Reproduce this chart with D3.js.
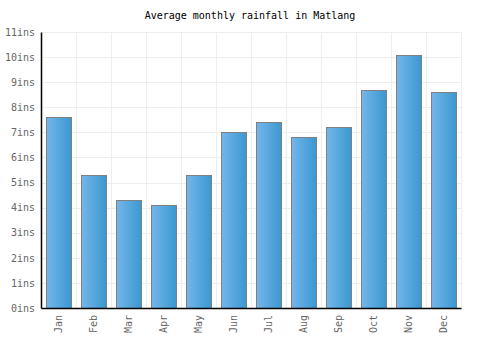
<!DOCTYPE html>
<html><head><meta charset="utf-8">
<script src="https://cdn.jsdelivr.net/npm/d3@7"></script>
<style>body{margin:0;background:#fff}</style>
</head><body><svg id="c" width="500" height="350"></svg>
<script>
const months = ["Jan","Feb","Mar","Apr","May","Jun","Jul","Aug","Sep","Oct","Nov","Dec"];
const rainfall = [7.6,5.3,4.3,4.1,5.3,7.0,7.4,6.8,7.2,8.7,10.1,8.6];
const yTicks = [0,1,2,3,4,5,6,7,8,9,10,11];
const title = "Average monthly rainfall in Matlang";

const svg = d3.select("#c");
const m = {l:41, r:39, t:32, b:42};
const W = 500, H = 350;
const x = d3.scaleBand().domain(months).range([m.l, W-m.r]).paddingInner(0.3).paddingOuter(0.15);
const xg = d3.scaleBand().domain(months).range([m.l, W-m.r]);
const y = d3.scaleLinear().domain([0,11]).range([H-m.b, m.t]);
const font = "'DejaVu Sans Mono', monospace";

const defs = svg.append("defs");
const g = defs.append("linearGradient").attr("id","bg").attr("x1","0").attr("x2","1").attr("y1","0").attr("y2","0");
g.append("stop").attr("offset","0").attr("stop-color","#74b6ea");
g.append("stop").attr("offset","1").attr("stop-color","#3a98d0");

// grid
svg.append("g").selectAll("line").data(yTicks).join("line")
  .attr("x1", m.l).attr("x2", W-m.r)
  .attr("y1", d=>Math.round(y(d))+0.5).attr("y2", d=>Math.round(y(d))+0.5)
  .attr("stroke","#eeeeee");
svg.append("g").selectAll("line").data(months).join("line")
  .attr("x1", d=>Math.round(xg(d)+xg.bandwidth())+0.5).attr("x2", d=>Math.round(xg(d)+xg.bandwidth())+0.5)
  .attr("y1", m.t).attr("y2", H-m.b)
  .attr("stroke","#eeeeee");

// bars
svg.append("g").selectAll("rect").data(months).join("rect")
  .attr("x", d=>Math.round(x(d))+0.5)
  .attr("width", Math.round(x.bandwidth()))
  .attr("y", (d,i)=>Math.round(y(rainfall[i]))+0.5)
  .attr("height", (d,i)=>Math.round(y(0))-Math.round(y(rainfall[i])))
  .attr("fill","url(#bg)").attr("stroke","#808080").attr("stroke-width",1);

// axes
const ya = svg.append("g").attr("transform",`translate(${m.l},0)`)
  .call(d3.axisLeft(y).tickValues(yTicks).tickFormat(d=>d+"ins").tickSize(0).tickPadding(6));
ya.select(".domain").attr("stroke","#000").attr("stroke-width",1.5);
ya.selectAll("text").attr("font-family",font).attr("font-size",10).attr("fill","#666");

const xa = svg.append("g").attr("transform",`translate(0,${H-m.b})`)
  .call(d3.axisBottom(x).tickSize(0).tickPadding(0));
xa.select(".domain").attr("stroke","#000").attr("stroke-width",1.5);
xa.selectAll("text").attr("font-family",font).attr("font-size",10).attr("fill","#666")
  .attr("transform","rotate(-90)").attr("text-anchor","end").attr("dy","0.35em").attr("x",-7).attr("y",0);

svg.append("text").attr("x",250).attr("y",19).attr("text-anchor","middle")
  .attr("font-family",font).attr("font-size",10).attr("fill","#000").text(title);
</script></body></html>
